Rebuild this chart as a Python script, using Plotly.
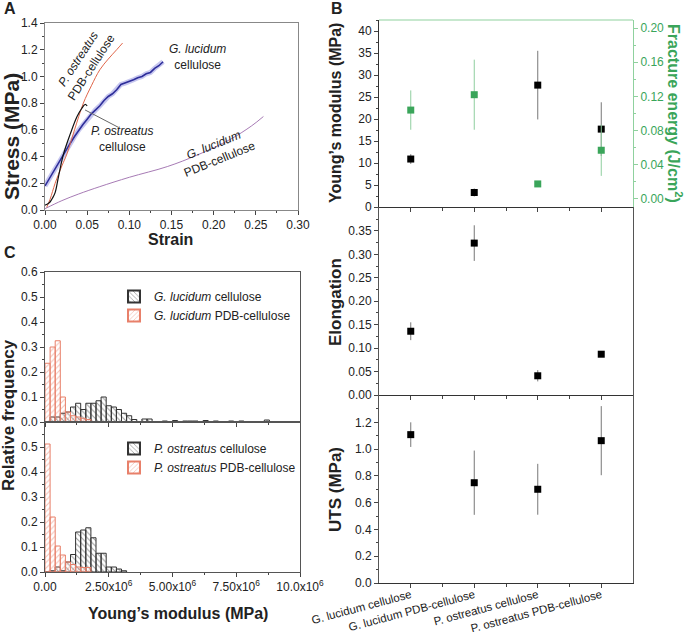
import plotly.graph_objects as go

W, H = 685, 632
def px(x): return x / W
def py(y): return 1 - y / H

FONT = "Liberation Sans, Arial, sans-serif"

# ---------------- Panel A : stress-strain curves ----------------
po_pdb_strain = [0.002, 0.006, 0.012, 0.020, 0.026, 0.035, 0.0455, 0.055, 0.065, 0.075, 0.085, 0.092]
po_pdb_stress = [0.02, 0.08, 0.20, 0.33, 0.42, 0.60, 0.80, 0.93, 1.05, 1.13, 1.20, 1.25]

po_cell_strain = [0.0, 0.003, 0.006, 0.009, 0.012, 0.016, 0.022, 0.030, 0.038, 0.0435, 0.0475, 0.050]
po_cell_stress = [0.037, 0.045, 0.06, 0.09, 0.13, 0.25, 0.42, 0.57, 0.70, 0.76, 0.79, 0.78]

gl_cell_strain = [0.0, 0.005, 0.01, 0.015, 0.02, 0.025, 0.03, 0.035, 0.04, 0.045, 0.05, 0.055,
                  0.06, 0.065, 0.07, 0.075, 0.08, 0.085, 0.09, 0.095, 0.10, 0.105, 0.11, 0.115,
                  0.12, 0.125, 0.13, 0.135, 0.14]
gl_cell_stress = [0.18, 0.235, 0.29, 0.345, 0.40, 0.45, 0.50, 0.55, 0.60, 0.64, 0.68, 0.72,
                  0.75, 0.78, 0.82, 0.85, 0.87, 0.90, 0.94, 0.95, 0.96, 0.975, 0.99, 1.00,
                  1.02, 1.03, 1.06, 1.08, 1.11]

gl_pdb_strain = [0.0, 0.02, 0.04, 0.065, 0.10, 0.145, 0.18, 0.22, 0.245, 0.259]
gl_pdb_stress = [0.01, 0.07, 0.12, 0.175, 0.245, 0.325, 0.41, 0.53, 0.63, 0.70]

# ---------------- Panel B : mechanical properties ----------------
samples = ["G. lucidum cellulose", "G. lucidum PDB-cellulose",
           "P. ostreatus cellulose", "P. ostreatus PDB-cellulose"]
sample_pos = [1, 2, 3, 4]
youngs = [10.9, 3.3, 27.7, 17.7]
youngs_err = [1.1, 0.9, 7.8, 6.1]
fracture = [0.104, 0.122, 0.0176, 0.057]
fracture_err = [0.023, 0.041, 0.002, 0.030]
elong = [0.136, 0.324, 0.041, 0.087]
elong_err = [0.019, 0.038, 0.012, 0.004]
uts = [1.108, 0.749, 0.700, 1.063]
uts_err = [0.092, 0.24, 0.19, 0.258]

# ---------------- Panel C : histograms ----------------
bin_width = 0.2e6
gl_cell_freq = [0, 0.02, 0.02, 0.035, 0.04, 0.06, 0.075, 0.05, 0.075, 0.075, 0.085, 0.10,
                0.065, 0.06, 0.05, 0.035, 0.025, 0.01, 0, 0.012, 0.012, 0, 0, 0.004, 0,
                0.006, 0, 0.004, 0.004, 0.004, 0, 0.006, 0, 0.004, 0, 0, 0.004, 0, 0.004,
                0, 0, 0, 0, 0.008]
gl_pdb_freq = [0.235, 0.30, 0.325, 0.10, 0.04, 0.025, 0.02, 0.015, 0.01]
po_cell_freq = [0, 0.005, 0.02, 0.005, 0.04, 0.07, 0.16, 0.168, 0.177, 0.137, 0.075, 0.075,
                0.02, 0.02, 0.012, 0.005]
po_pdb_freq = [0.512, 0.22, 0.104, 0.068, 0.04, 0.03, 0.02, 0.018, 0.018]

hist_ticks = [0, 2.5e6, 5e6, 7.5e6, 10e6]
hist_ticktext = ["0.00", "2.50x10<sup>6</sup>", "5.00x10<sup>6</sup>",
                 "7.50x10<sup>6</sup>", "10.0x10<sup>6</sup>"]

def centers(vals):
    return [i * bin_width + bin_width / 2 for i in range(len(vals))]

BLUE = "#2e2e9a"
RED = "#e0664a"
PURPLE = "#a77bb5"
GREEN = "#3aa55a"
GREEN_L = "#8fd19e"
HRED = "#e8806a"
HBLK = "#333333"

fig = go.Figure()

# Panel A traces
fig.add_trace(go.Scatter(x=gl_cell_strain, y=gl_cell_stress, mode="lines",
                         line=dict(color="rgba(130,130,220,0.45)", width=5),
                         xaxis="x", yaxis="y", showlegend=False, hoverinfo="skip"))
fig.add_trace(go.Scatter(x=gl_cell_strain, y=gl_cell_stress, mode="lines",
                         line=dict(color=BLUE, width=1.6), xaxis="x", yaxis="y", showlegend=False))
fig.add_trace(go.Scatter(x=gl_pdb_strain, y=gl_pdb_stress, mode="lines", line_shape="spline",
                         line=dict(color=PURPLE, width=1), xaxis="x", yaxis="y", showlegend=False))
fig.add_trace(go.Scatter(x=po_pdb_strain, y=po_pdb_stress, mode="lines", line_shape="spline",
                         line=dict(color=RED, width=1), xaxis="x", yaxis="y", showlegend=False))
fig.add_trace(go.Scatter(x=po_cell_strain, y=po_cell_stress, mode="lines", line_shape="spline",
                         line=dict(color="#111111", width=1.2), xaxis="x", yaxis="y", showlegend=False))

# Panel B traces
def err(vals, color="#777777"):
    return dict(type="data", array=vals, visible=True, color=color, thickness=1, width=0)

fig.add_trace(go.Scatter(x=sample_pos, y=youngs, error_y=err(youngs_err), mode="markers",
                         marker=dict(symbol="square", size=7, color="black"),
                         xaxis="x2", yaxis="y2", showlegend=False))
fig.add_trace(go.Scatter(x=sample_pos, y=fracture, error_y=err(fracture_err, "#8fce9f"), mode="markers",
                         marker=dict(symbol="square", size=7, color=GREEN),
                         xaxis="x2", yaxis="y3", showlegend=False))
fig.add_trace(go.Scatter(x=sample_pos, y=elong, error_y=err(elong_err), mode="markers",
                         marker=dict(symbol="square", size=7, color="black"),
                         xaxis="x3", yaxis="y4", showlegend=False))
fig.add_trace(go.Scatter(x=sample_pos, y=uts, error_y=err(uts_err), mode="markers",
                         marker=dict(symbol="square", size=7, color="black"),
                         xaxis="x4", yaxis="y5", showlegend=False))

# Panel C traces
def hbar(vals, color, shape, name, xa, ya, leg):
    return go.Bar(x=centers(vals), y=vals, width=bin_width, name=name, xaxis=xa, yaxis=ya,
                  legend=leg,
                  marker=dict(color="rgba(0,0,0,0)", line=dict(color=color, width=1),
                              pattern=dict(shape=shape, fgcolor=color, bgcolor="rgba(0,0,0,0)",
                                           size=4, solidity=0.25, fillmode="overlay")))

fig.add_trace(hbar(gl_cell_freq, HBLK, "\\", "<i>G. lucidum</i> cellulose", "x5", "y6", "legend"))
fig.add_trace(hbar(gl_pdb_freq, HRED, "/", "<i>G. lucidum</i> PDB-cellulose", "x5", "y6", "legend"))
fig.add_trace(hbar(po_cell_freq, HBLK, "\\", "<i>P. ostreatus</i> cellulose", "x6", "y7", "legend2"))
fig.add_trace(hbar(po_pdb_freq, HRED, "/", "<i>P. ostreatus</i> PDB-cellulose", "x6", "y7", "legend2"))

tickfont = dict(family=FONT, size=12, color="#222")
common = dict(showgrid=False, zeroline=False, ticks="outside", ticklen=4, tickwidth=1,
              tickcolor="#444", showline=True, linewidth=1, tickfont=tickfont, automargin=False)

Bx = [px(379), px(633)]
Cx = [px(45), px(300)]

fig.update_layout(
    width=W, height=H, margin=dict(l=0, r=0, t=0, b=0, autoexpand=False),
    paper_bgcolor="white", plot_bgcolor="white", barmode="overlay",
    font=dict(family=FONT, size=12, color="#222"),
    xaxis=dict(domain=[px(45), px(298)], range=[0, 0.30], anchor="y", dtick=0.05, tick0=0,
               tickformat=".2f", linecolor="#888", mirror=True,
               minor=dict(dtick=0.025, ticks="outside", ticklen=2, tickcolor="#444"), **common),
    yaxis=dict(domain=[py(210), py(23)], range=[0, 1.4], anchor="x", dtick=0.2, tick0=0,
               tickformat=".1f", linecolor="#888", mirror=True,
               minor=dict(dtick=0.1, ticks="outside", ticklen=2, tickcolor="#444"), **common),
    xaxis2=dict(domain=Bx, range=[0.5, 4.5], anchor="y2", tickvals=sample_pos,
                showticklabels=False, linecolor="#333",
                minor=dict(tickvals=[1.5, 2.5, 3.5], ticks="outside", ticklen=3, tickcolor="#444"),
                **common),
    yaxis2=dict(domain=[py(207), py(20)], range=[0, 42.5], anchor="x2", dtick=5, tick0=0,
                linecolor="#333",
                minor=dict(dtick=2.5, ticks="outside", ticklen=2, tickcolor="#444"), **common),
    yaxis3=dict(overlaying="y2", side="right", anchor="x2", range=[-0.0094, 0.2094],
                tickvals=[0, 0.04, 0.08, 0.12, 0.16, 0.20], tickformat=".2f",
                showgrid=False, zeroline=False, ticks="outside", ticklen=4, tickcolor=GREEN_L,
                showline=True, linecolor=GREEN_L, linewidth=1, automargin=False,
                tickfont=dict(family=FONT, size=12, color=GREEN),
                minor=dict(tickvals=[0.02, 0.06, 0.10, 0.14, 0.18], ticks="outside", ticklen=2,
                           tickcolor=GREEN_L)),
    xaxis3=dict(domain=Bx, range=[0.5, 4.5], anchor="y4", tickvals=sample_pos,
                showticklabels=False, linecolor="#333",
                minor=dict(tickvals=[1.5, 2.5, 3.5], ticks="outside", ticklen=3, tickcolor="#444"),
                **common),
    yaxis4=dict(domain=[py(395), py(207)], range=[0, 0.401], anchor="x3",
                tickvals=[0, 0.05, 0.10, 0.15, 0.20, 0.25, 0.30, 0.35],
                tickformat=".2f", linecolor="#555", mirror=True,
                minor=dict(tickvals=[0.025, 0.075, 0.125, 0.175, 0.225, 0.275, 0.325, 0.375],
                           ticks="outside", ticklen=2, tickcolor="#444"), **common),
    xaxis4=dict(domain=Bx, range=[0.5, 4.5], anchor="y5", tickvals=sample_pos, ticktext=samples,
                tickangle=-15, linecolor="#333", ticklabelstandoff=-4,
                minor=dict(tickvals=[1.5, 2.5, 3.5], ticks="outside", ticklen=3, tickcolor="#444"),
                **{k: v for k, v in common.items() if k != "tickfont"},
                tickfont=dict(family=FONT, size=11.5, color="#222")),
    yaxis5=dict(domain=[py(583), py(395)], range=[0, 1.404], anchor="x4",
                tickvals=[0, 0.2, 0.4, 0.6, 0.8, 1.0, 1.2],
                tickformat=".1f", linecolor="#555", mirror=True,
                minor=dict(tickvals=[0.1, 0.3, 0.5, 0.7, 0.9, 1.1, 1.3],
                           ticks="outside", ticklen=2, tickcolor="#444"), **common),
    xaxis5=dict(domain=Cx, range=[0, 10e6], anchor="y6", tickvals=hist_ticks,
                showticklabels=False, linecolor="#555", mirror=True,
                minor=dict(tickvals=[1.25e6, 3.75e6, 6.25e6, 8.75e6], ticks="outside", ticklen=2,
                           tickcolor="#444"), **common),
    yaxis6=dict(domain=[py(422), py(272)], range=[0, 0.6], anchor="x5",
                tickvals=[0, 0.1, 0.2, 0.3, 0.4, 0.5, 0.6], tickformat=".1f",
                linecolor="#555", mirror=True,
                minor=dict(dtick=0.05, ticks="outside", ticklen=2, tickcolor="#444"), **common),
    xaxis6=dict(domain=Cx, range=[0, 10e6], anchor="y7", tickvals=hist_ticks,
                ticktext=hist_ticktext, linecolor="#555", mirror=True,
                minor=dict(tickvals=[1.25e6, 3.75e6, 6.25e6, 8.75e6], ticks="outside", ticklen=2,
                           tickcolor="#444"), **common),
    yaxis7=dict(domain=[py(572), py(422)], range=[0, 0.6], anchor="x6",
                tickvals=[0, 0.1, 0.2, 0.3, 0.4, 0.5], tickformat=".1f",
                linecolor="#555", mirror=True,
                minor=dict(dtick=0.05, ticks="outside", ticklen=2, tickcolor="#444"), **common),
    legend=dict(x=px(114), y=py(282), xanchor="left", yanchor="top", bgcolor="rgba(0,0,0,0)",
                font=dict(family=FONT, size=12, color="#222"), tracegroupgap=0,
                itemsizing="constant"),
    legend2=dict(x=px(114), y=py(434), xanchor="left", yanchor="top", bgcolor="rgba(0,0,0,0)",
                 font=dict(family=FONT, size=12, color="#222"), tracegroupgap=0,
                 itemsizing="constant"),
)

# green top border of panel B top
fig.add_shape(type="line", xref="paper", yref="paper", x0=px(379), x1=px(633),
              y0=py(20), y1=py(20), line=dict(color=GREEN_L, width=1))
# leader line panel A
fig.add_shape(type="line", xref="x", yref="y", x0=0.0475, y0=0.749, x1=0.0867, y1=0.62,
              line=dict(color="#666", width=1))

def ann(text, x, y, size=12, bold=False, angle=0, color="#222", xanchor="center"):
    t = f"<b>{text}</b>" if bold else text
    fig.add_annotation(text=t, x=px(x), y=py(y), xref="paper", yref="paper", showarrow=False,
                       textangle=angle, font=dict(family=FONT, size=size, color=color),
                       xanchor=xanchor, yanchor="middle")

# Panel letters
ann("A", 10, 9, 16, True)
ann("B", 337, 9, 16, True)
ann("C", 10, 252, 16, True)

# Axis titles
ann("Stress (MPa)", 11, 137, 21, True, -90)
ann("Strain", 170, 239, 16, True)
ann("Young’s modulus (MPa)", 335, 113, 16, True, -90)
ann("Fracture energy (J/cm<sup>2</sup>)", 675, 113, 16, True, 90, GREEN)
ann("Elongation", 335, 302, 17, True, -90)
ann("UTS (MPa)", 335, 490, 17, True, -90)
ann("Relative frequency", 9, 415, 17, True, -90)
ann("Young’s modulus (MPa)", 178, 613, 16, True)

# Panel A labels
ann("<i>P. ostreatus</i><br>PDB-cellulose", 85, 63, 12, False, -57)
ann("<i>G. lucidum</i><br>cellulose", 197, 57, 12)
ann("<i>P. ostreatus</i><br>cellulose", 122, 139, 12)
ann("<i>G. lucidum</i><br>PDB-cellulose", 217, 152, 12, False, -22)

fig.write_html("out.html", config={"displayModeBar": False},
               post_script="document.body.style.margin='0px';")
